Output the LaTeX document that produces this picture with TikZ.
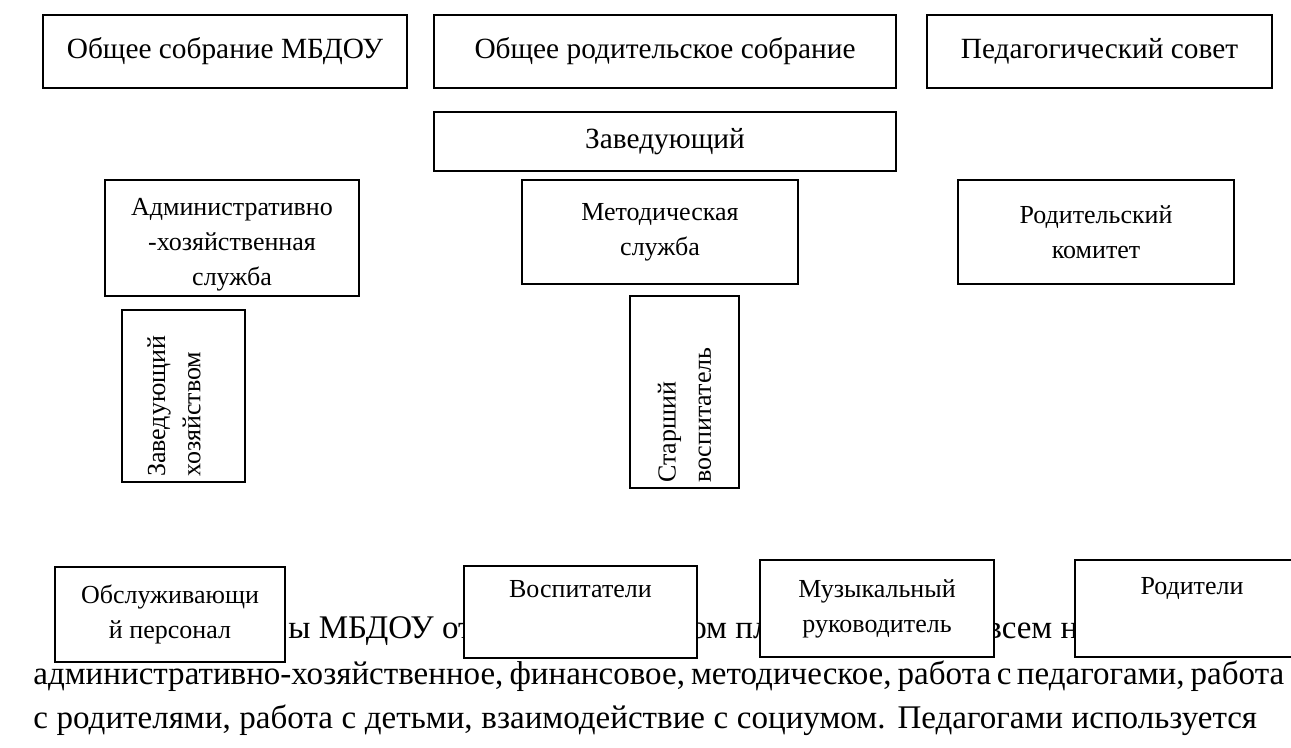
\documentclass[tikz,border=0pt]{standalone}
\usepackage{fontspec}
\setmainfont{Liberation Serif}
\usepackage{tikz}
\usetikzlibrary{positioning}
\tikzstyle{unit}=[rectangle, draw=black, line width=0.9pt, fill=white,
  align=center, inner sep=2pt, font=\fontsize{14.8}{20}\selectfont]
\tikzstyle{topunit}=[unit, font=\fontsize{16.7}{21}\selectfont]
\tikzstyle{vunit}=[unit, rotate=90, align=left]
\tikzstyle{body}=[anchor=base west, inner sep=0pt, font=\fontsize{18.8}{24}\selectfont]

\begin{document}
\begin{tikzpicture}[x=0.02cm, y=-0.02cm]
    \useasboundingbox (0,0) rectangle (1291,747);

    % Page text behind the chart (only the parts left visible)
    \node[body] (frag1) at (288,638) {ы МБДОУ от};
    \node[body] (frag2) at (690,638) {ом пл};
    \node[body] (frag3) at (986,638) {всем н};
    \node[body] (line2) at (33,684) {\makebox[24.48cm][s]{административно-хозяйственное, финансовое, методическое, работа с педагогами, работа}};
    \node[body] (line3) at (33,728) {\makebox[24.48cm][s]{с родителями, работа с детьми, взаимодействие с социумом. Педагогами используется}};

    % Row 1: councils
    \node[topunit, minimum width=7.28cm, minimum height=1.46cm] (meeting) at (225,51.5) {Общее собрание МБДОУ};
    \node[topunit, minimum width=9.24cm, minimum height=1.46cm] (parentmeet) at (665,51.5) {Общее родительское собрание};
    \node[topunit, minimum width=6.9cm, minimum height=1.46cm] (council) at (1099.5,51.5) {Педагогический совет};

    % Row 2: head
    \node[topunit, minimum width=9.24cm, minimum height=1.18cm] (head) at (665,141.5) {Заведующий};

    % Row 3: services
    \node[unit, minimum width=5.08cm, minimum height=2.32cm] (admin) at (232,238)
      {\rule{0pt}{17.5pt}Административно\\-хозяйственная\\служба};
    \node[unit, minimum width=5.52cm, minimum height=2.08cm] (method) at (660,232)
      {Методическая\\служба};
    \node[unit, minimum width=5.52cm, minimum height=2.08cm] (committee) at (1096,232)
      {Родительский\\комитет};

    % Row 4: upright boxes
    \node[vunit, minimum width=3.44cm, minimum height=2.46cm, text width=3.24cm] (supply) at (183.5,396)
      {Заведующий\\хозяйством\rule[-11pt]{0pt}{0pt}};
    \node[vunit, minimum width=3.84cm, minimum height=2.18cm, text width=3.64cm] (senior) at (684.5,392)
      {Старший\\воспитатель};

    % Row 5: staff and parents
    \node[unit, minimum width=4.6cm, minimum height=1.9cm] (staff) at (170,614.5)
      {Обслуживающи\\й персонал};
    \node[unit, minimum width=4.66cm, minimum height=1.84cm] (teachers) at (580.5,612)
      {Воспитатели\\\strut};
    \node[unit, minimum width=4.68cm, minimum height=1.94cm] (music) at (877,608.5)
      {Музыкальный\\руководитель};
    \node[unit, minimum width=4.68cm, minimum height=1.94cm] (parents) at (1192,608.5)
      {Родители\\\strut};

\end{tikzpicture}
\end{document}
